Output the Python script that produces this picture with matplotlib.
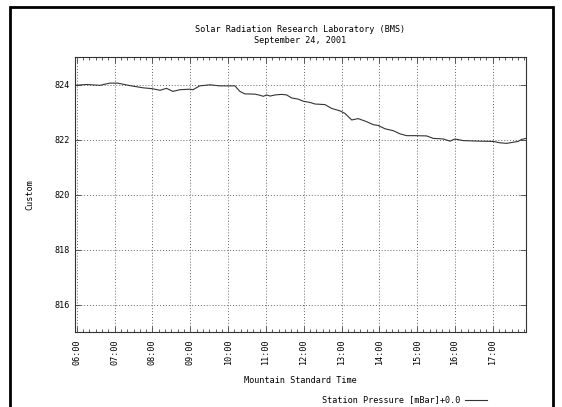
import matplotlib
matplotlib.use("Agg")
import matplotlib.pyplot as plt
from matplotlib.patches import Rectangle
from matplotlib.lines import Line2D
from matplotlib.ticker import MultipleLocator, FixedLocator

# Data (hours MST, station pressure mBar)
hours = [5.95, 6.26, 6.61, 6.87, 7.08, 7.40, 7.75, 7.98, 8.20, 8.37, 8.54, 8.72,
         8.99, 9.07, 9.25, 9.52, 9.78, 10.18, 10.31, 10.44, 10.71, 10.84, 10.93,
         11.02, 11.11, 11.24, 11.42, 11.55, 11.68, 11.85, 11.99, 12.16, 12.30,
         12.56, 12.74, 12.96, 13.09, 13.27, 13.44, 13.66, 13.84, 13.97, 14.15,
         14.37, 14.54, 14.72, 14.94, 15.25, 15.43, 15.69, 15.87, 16.00, 16.22,
         16.66, 17.01, 17.19, 17.37, 17.54, 17.67, 17.76, 17.88]
pressure = [823.97, 824.00, 823.97, 824.05, 824.05, 823.96, 823.88, 823.85, 823.79,
            823.86, 823.75, 823.81, 823.83, 823.81, 823.95, 823.99, 823.95, 823.95,
            823.75, 823.66, 823.65, 823.61, 823.57, 823.62, 823.58, 823.62, 823.64,
            823.62, 823.51, 823.47, 823.39, 823.35, 823.29, 823.27, 823.13, 823.04,
            822.95, 822.71, 822.76, 822.65, 822.54, 822.51, 822.39, 822.32, 822.21,
            822.14, 822.14, 822.13, 822.04, 822.02, 821.94, 822.02, 821.96, 821.94,
            821.93, 821.88, 821.86, 821.90, 821.93, 822.00, 822.04]
xtick_hours = list(range(6, 18))
xtick_labels = ["%02d:00" % h for h in xtick_hours]
ytick_vals = [816, 818, 820, 822, 824]

title = "Solar Radiation Research Laboratory (BMS)\nSeptember 24, 2001"
legend_label = "Station Pressure [mBar]+0.0"

W, H = 562, 407
fig = plt.figure(figsize=(W / 100, H / 100), dpi=100)
FONT = "DejaVu Sans Mono"
FS = 6.1

def fx(px):
    return px / W

def fy(py):
    return 1 - py / H

# outer frame
fig.patches.append(Rectangle((fx(10), fy(420)), fx(553) - fx(10), fy(7) - fy(420),
                             transform=fig.transFigure, fill=False,
                             edgecolor="black", linewidth=2))

ax = fig.add_axes([fx(75), fy(332), fx(526) - fx(75), fy(57) - fy(332)])
ax.plot(hours, pressure, color="#333333", linewidth=0.8)
ax.set_xlim(5.95, 17.88)
ax.set_ylim(815, 825)

ax.xaxis.set_major_locator(FixedLocator(xtick_hours))
ax.set_xticks(xtick_hours)
ax.set_xticklabels(xtick_labels, rotation=90, fontfamily=FONT, fontsize=FS)
ax.xaxis.set_minor_locator(MultipleLocator(1 / 6))
ax.set_yticks(ytick_vals)
ax.set_yticklabels([str(v) for v in ytick_vals], fontfamily=FONT, fontsize=FS)

ax.tick_params(axis="both", which="both", direction="in", top=True, right=True,
               width=0.6, color="#444444")
ax.tick_params(axis="x", which="major", length=4, pad=5)
ax.tick_params(axis="x", which="minor", length=2.5)
ax.tick_params(axis="y", which="major", length=4, pad=4)

ax.grid(True, which="major", linestyle=(0, (1, 2)), color="#666666", linewidth=0.7)
for s in ax.spines.values():
    s.set_linewidth(0.8)
    s.set_color("#333333")

ax.set_xlabel("Mountain Standard Time", fontfamily=FONT, fontsize=FS, labelpad=8)
ax.set_ylabel("Custom", fontfamily=FONT, fontsize=FS, labelpad=14)

fig.text(fx(300), fy(35), title, ha="center", va="center", fontfamily=FONT,
         fontsize=FS, linespacing=1.3)

fig.text(fx(460), fy(400), legend_label, ha="right", va="center",
         fontfamily=FONT, fontsize=FS)
fig.add_artist(Line2D([fx(465), fx(487)], [fy(400), fy(400)],
                      transform=fig.transFigure, color="#333333", linewidth=0.8))

fig.savefig("out.png", dpi=100)
